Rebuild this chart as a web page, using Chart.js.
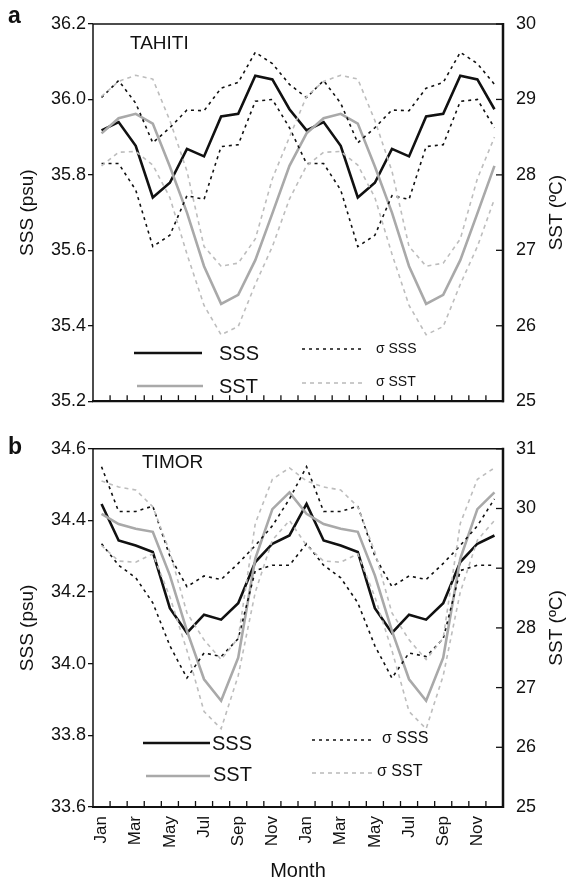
<!DOCTYPE html>
<html>
<head>
<meta charset="utf-8">
<script src="https://cdn.jsdelivr.net/npm/chart.js@4.4.1/dist/chart.umd.min.js"></script>
<style>
  html, body { margin: 0; padding: 0; background: #fff; }
  #wrap { position: relative; width: 573px; height: 881px; }
  canvas { position: absolute; left: 0; }
  #chartA { top: 0; }
  #chartB { top: 425px; }
</style>
</head>
<body>
<div id="wrap">
  <canvas id="chartA" width="573" height="425"></canvas>
  <canvas id="chartB" width="573" height="456"></canvas>
</div>
<script>
// monthly climatology, shown twice (two years) on the x axis
const months = ["Jan", "Feb", "Mar", "Apr", "May", "Jun", "Jul", "Aug", "Sep", "Oct", "Nov", "Dec"];

// a) TAHITI
const tahitiSss   = [35.918, 35.940, 35.877, 35.740, 35.779, 35.869, 35.849, 35.955, 35.962, 36.063, 36.053, 35.974];
const tahitiSssHi = [36.005, 36.050, 35.990, 35.885, 35.925, 35.972, 35.970, 36.030, 36.045, 36.125, 36.095, 36.040];
const tahitiSssLo = [35.830, 35.830, 35.760, 35.610, 35.640, 35.745, 35.735, 35.875, 35.880, 35.995, 36.000, 35.925];
const tahitiSst   = [28.55, 28.75, 28.81, 28.68, 28.11, 27.50, 26.79, 26.29, 26.41, 26.87, 27.49, 28.12];
const tahitiSstHi = [29.04, 29.24, 29.32, 29.27, 28.72, 28.05, 27.05, 26.79, 26.83, 27.15, 27.95, 28.50];
const tahitiSstLo = [28.12, 28.30, 28.31, 28.13, 27.70, 26.95, 26.27, 25.88, 25.99, 26.55, 27.05, 27.68];

// b) TIMOR
const timorSss   = [34.446, 34.344, 34.330, 34.312, 34.155, 34.086, 34.137, 34.123, 34.169, 34.284, 34.335, 34.358];
const timorSssHi = [34.550, 34.425, 34.425, 34.440, 34.300, 34.215, 34.245, 34.235, 34.280, 34.330, 34.385, 34.460];
const timorSssLo = [34.335, 34.275, 34.240, 34.170, 34.050, 33.960, 34.030, 34.020, 34.070, 34.260, 34.275, 34.275];
const timorSst   = [29.91, 29.74, 29.66, 29.61, 28.88, 27.95, 27.14, 26.78, 27.50, 29.16, 29.99, 30.27];
const timorSstHi = [30.46, 30.36, 30.31, 30.03, 29.27, 28.25, 27.80, 27.47, 27.83, 29.75, 30.49, 30.68];
const timorSstLo = [29.38, 29.12, 29.10, 29.24, 28.52, 27.62, 26.60, 26.31, 27.20, 28.60, 29.47, 29.80];

// axis ticks
const tahitiSssTicks = [35.2, 35.4, 35.6, 35.8, 36.0, 36.2];
const tahitiSstTicks = [25, 26, 27, 28, 29, 30];
const timorSssTicks = [33.6, 33.8, 34.0, 34.2, 34.4, 34.6];
const timorSstTicks = [25, 26, 27, 28, 29, 30, 31];

const FONT = '"Liberation Sans", Arial, Helvetica, sans-serif';
const INK = "#111";
const GREY = "#a9a9a9";
const LIGHT = "#bdbdbd";

const twoYears = (arr) => arr.concat(arr);
const labels = twoYears(months);

function line(ctx, x1, y1, x2, y2) {
  ctx.beginPath();
  ctx.moveTo(x1, y1);
  ctx.lineTo(x2, y2);
  ctx.stroke();
}

const decor = {
  id: "decor",
  afterDraw(chart, args, opts) {
    const ctx = chart.ctx;
    const area = chart.chartArea;
    const x = chart.scales.x;
    const y1 = chart.scales.y1;

    ctx.save();
    ctx.strokeStyle = INK;
    ctx.setLineDash([]);

    // inward ticks on the month axis, at category boundaries
    ctx.lineWidth = 1.3;
    for (let i = 0; i < labels.length - 1; i++) {
      const px = (x.getPixelForValue(i) + x.getPixelForValue(i + 1)) / 2;
      line(ctx, px, area.bottom, px, area.bottom - 6);
    }
    // inward ticks on the SST axis
    y1.ticks.forEach((t) => {
      const py = y1.getPixelForValue(t.value);
      line(ctx, area.right, py, area.right - 7, py);
    });

    // frame
    ctx.lineWidth = 1.5;
    line(ctx, area.left, area.top, area.right, area.top);
    line(ctx, area.left, area.top, area.left, area.bottom);
    ctx.lineWidth = 2.2;
    line(ctx, area.left - 1, area.bottom, area.right + 1, area.bottom);
    ctx.lineWidth = 2.5;
    line(ctx, area.right, area.top - 1, area.right, area.bottom + 1);

    // texts
    ctx.fillStyle = INK;
    ctx.textBaseline = "middle";
    ctx.textAlign = "left";
    ctx.font = `bold 23px ${FONT}`;
    ctx.fillText(opts.letter, 8, opts.letterY);
    ctx.font = `19px ${FONT}`;
    ctx.fillText(opts.site, opts.siteX, opts.siteY);

    const midY = (area.top + area.bottom) / 2;
    ctx.textAlign = "center";
    ctx.font = `19px ${FONT}`;
    ctx.save();
    ctx.translate(28, midY);
    ctx.rotate(-Math.PI / 2);
    ctx.fillText("SSS (psu)", 0, 0);
    ctx.restore();
    ctx.save();
    ctx.translate(557, midY);
    ctx.rotate(-Math.PI / 2);
    ctx.fillText("SST (ºC)", 0, 0);
    ctx.restore();

    if (opts.xTitle) {
      ctx.font = `20px ${FONT}`;
      ctx.fillText(opts.xTitle, (area.left + area.right) / 2, opts.xTitleY);
    }

    // legend
    opts.legend.forEach((item) => {
      ctx.strokeStyle = item.color;
      ctx.lineWidth = item.width;
      ctx.setLineDash(item.dash || []);
      line(ctx, item.x1, item.y, item.x2, item.y);
      ctx.setLineDash([]);
      ctx.fillStyle = INK;
      ctx.textAlign = "left";
      ctx.font = `${item.size}px ${FONT}`;
      ctx.fillText(item.label, item.lx, item.ly);
    });

    ctx.restore();
  }
};

function datasets(sss, sssHi, sssLo, sst, sstHi, sstLo) {
  const base = { pointRadius: 0, tension: 0, fill: false };
  const dotted = { borderColor: INK, borderWidth: 1.6, borderDash: [3, 4], yAxisID: "y" };
  const dashed = { borderColor: LIGHT, borderWidth: 1.6, borderDash: [4, 4], yAxisID: "y1" };
  return [
    { ...base, ...dashed, label: "σ SST +", data: twoYears(sstHi) },
    { ...base, ...dashed, label: "σ SST -", data: twoYears(sstLo) },
    { ...base, ...dotted, label: "σ SSS +", data: twoYears(sssHi) },
    { ...base, ...dotted, label: "σ SSS -", data: twoYears(sssLo) },
    { ...base, label: "SST", data: twoYears(sst), borderColor: GREY, borderWidth: 2.6, yAxisID: "y1" },
    { ...base, label: "SSS", data: twoYears(sss), borderColor: INK, borderWidth: 2.6, yAxisID: "y" }
  ];
}

function makeChart(id, cfg) {
  return new Chart(document.getElementById(id), {
    type: "line",
    data: { labels, datasets: cfg.datasets },
    plugins: [decor],
    options: {
      responsive: false,
      animation: false,
      layout: { padding: { top: cfg.padTop, left: 0, right: 0, bottom: 0 } },
      plugins: {
        legend: { display: false },
        tooltip: { enabled: false },
        decor: cfg.decor
      },
      scales: {
        x: {
          type: "category",
          offset: true,
          border: { display: false },
          grid: { display: false, drawTicks: false },
          ticks: {
            display: cfg.showMonths,
            autoSkip: false,
            minRotation: 90,
            maxRotation: 90,
            padding: 9,
            color: INK,
            font: { family: FONT, size: 17 },
            callback: (value, index) => (index % 2 === 0 ? labels[index] : "")
          },
          afterFit: (scale) => { scale.height = cfg.xHeight; }
        },
        y: {
          position: "left",
          min: cfg.sssTicks[0],
          max: cfg.sssTicks[cfg.sssTicks.length - 1],
          border: { display: false },
          grid: { display: true, drawOnChartArea: false, drawTicks: true, tickLength: 5, color: INK, lineWidth: 1.3 },
          ticks: { color: INK, padding: 2, font: { family: FONT, size: 18 }, callback: (v) => Number(v).toFixed(1) },
          afterBuildTicks: (scale) => { scale.ticks = cfg.sssTicks.map((v) => ({ value: v })); },
          afterFit: (scale) => { scale.width = 93; }
        },
        y1: {
          position: "right",
          min: cfg.sstTicks[0],
          max: cfg.sstTicks[cfg.sstTicks.length - 1],
          border: { display: false },
          grid: { display: false, drawTicks: false },
          ticks: { color: INK, padding: 13, font: { family: FONT, size: 18 }, callback: (v) => String(v) },
          afterBuildTicks: (scale) => { scale.ticks = cfg.sstTicks.map((v) => ({ value: v })); },
          afterFit: (scale) => { scale.width = 70; }
        }
      }
    }
  });
}

makeChart("chartA", {
  datasets: datasets(tahitiSss, tahitiSssHi, tahitiSssLo, tahitiSst, tahitiSstHi, tahitiSstLo),
  sssTicks: tahitiSssTicks,
  sstTicks: tahitiSstTicks,
  padTop: 24,
  xHeight: 13,
  showMonths: false,
  decor: {
    letter: "a", letterY: 17, site: "TAHITI", siteX: 130, siteY: 44,
    legend: [
      { x1: 134, x2: 202, y: 353, color: INK, width: 2.6, label: "SSS", lx: 219, ly: 354, size: 20 },
      { x1: 137, x2: 203, y: 386, color: GREY, width: 2.6, label: "SST", lx: 219, ly: 387, size: 20 },
      { x1: 302, x2: 365, y: 349, color: INK, width: 1.6, dash: [3, 4], label: "σ SSS", lx: 376, ly: 349, size: 14 },
      { x1: 302, x2: 365, y: 383, color: LIGHT, width: 1.6, dash: [4, 4], label: "σ SST", lx: 376, ly: 382, size: 14 }
    ]
  }
});

makeChart("chartB", {
  datasets: datasets(timorSss, timorSssHi, timorSssLo, timorSst, timorSstHi, timorSstLo),
  sssTicks: timorSssTicks,
  sstTicks: timorSstTicks,
  padTop: 21,
  xHeight: 74,
  showMonths: true,
  decor: {
    letter: "b", letterY: 23, site: "TIMOR", siteX: 142, siteY: 38,
    xTitle: "Month", xTitleY: 446,
    legend: [
      { x1: 143, x2: 210, y: 318, color: INK, width: 2.6, label: "SSS", lx: 212, ly: 319, size: 20 },
      { x1: 146, x2: 210, y: 351, color: GREY, width: 2.6, label: "SST", lx: 213, ly: 350, size: 20 },
      { x1: 312, x2: 373, y: 315, color: INK, width: 1.6, dash: [3, 4], label: "σ SSS", lx: 382, ly: 314, size: 16 },
      { x1: 312, x2: 373, y: 348, color: LIGHT, width: 1.6, dash: [4, 4], label: "σ SST", lx: 377, ly: 347, size: 16 }
    ]
  }
});
</script>
</body>
</html>
